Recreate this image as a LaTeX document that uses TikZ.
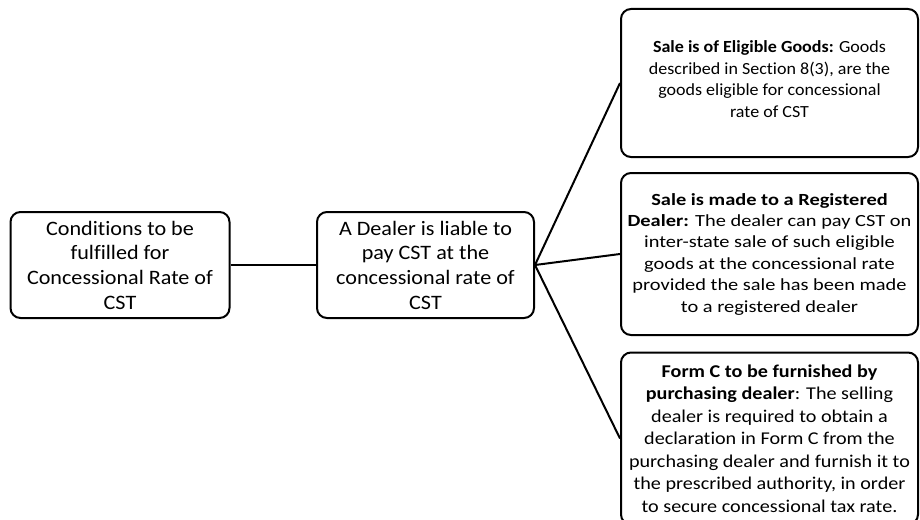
\documentclass[tikz,border=0pt]{standalone}
\usepackage{fontspec}
\setmainfont{Carlito}[Ligatures=NoCommon]
% Slightly widened Carlito faces for the different text blocks
\newfontfamily\fontmain{Carlito}[FakeStretch=1.08,Ligatures=NoCommon]
\newfontfamily\fontgoods{Carlito}[FakeStretch=1.06,Ligatures=NoCommon]
\newfontfamily\fontregd{Carlito}[FakeStretch=1.2,Ligatures=NoCommon]
\newfontfamily\fontformc{Carlito}[FakeStretch=1.12,Ligatures=NoCommon]
\begin{document}
\begin{tikzpicture}[x=1pt,y=-1pt,
  box/.style={draw=black,line width=2pt,rounded corners=10pt,fill=white,
    align=center,inner sep=2pt},
  link/.style={draw=black,line width=2pt}]
\useasboundingbox (0,0) rectangle (920,519);
\begin{scope}
\clip (0,0) rectangle (920,519);
\node[box,minimum width=219pt,minimum height=106pt,
  font=\fontmain\fontsize{20.5}{24.7}\selectfont] (cond) at (120,265)
  {Conditions to be\\fulfilled for\\Concessional Rate of\\CST};
\node[box,minimum width=217pt,minimum height=106pt,
  font=\fontmain\fontsize{20.5}{24.7}\selectfont] (dealer) at (425.5,265)
  {A Dealer is liable to\\pay CST at the\\concessional rate of\\CST};
\node[box,minimum width=297pt,minimum height=148pt,
  font=\fontgoods\fontsize{17}{21.5}\selectfont] (goods) at (769.5,83)
  {\textbf{Sale is of Eligible Goods:} Goods\\described in Section 8(3), are the\\goods eligible for concessional\\rate of CST\\[-14pt]};
\node[box,minimum width=297pt,minimum height=162pt,
  font=\fontregd\fontsize{17}{21.4}\selectfont] (regd) at (769.5,254)
  {\textbf{Sale is made to a Registered}\\\textbf{Dealer:} The dealer can pay CST on\\inter-state sale of such eligible\\goods at the concessional rate\\provided the sale has been made\\to a registered dealer};
\node[box,minimum width=297pt,minimum height=172pt,
  font=\fontformc\fontsize{18}{22.5}\selectfont] (formc) at (769.5,438.5)
  {\textbf{Form C to be furnished by}\\\textbf{purchasing dealer}: The selling\\dealer is required to obtain a\\declaration in Form C from the\\purchasing dealer and furnish it to\\the prescribed authority, in order\\to secure concessional tax rate.};
\draw[link] (cond.east) -- (dealer.west);
\draw[link] (dealer.east) -- (goods.west);
\draw[link] (dealer.east) -- (regd.west);
\draw[link] (dealer.east) -- (formc.west);
\end{scope}
\end{tikzpicture}
\end{document}
